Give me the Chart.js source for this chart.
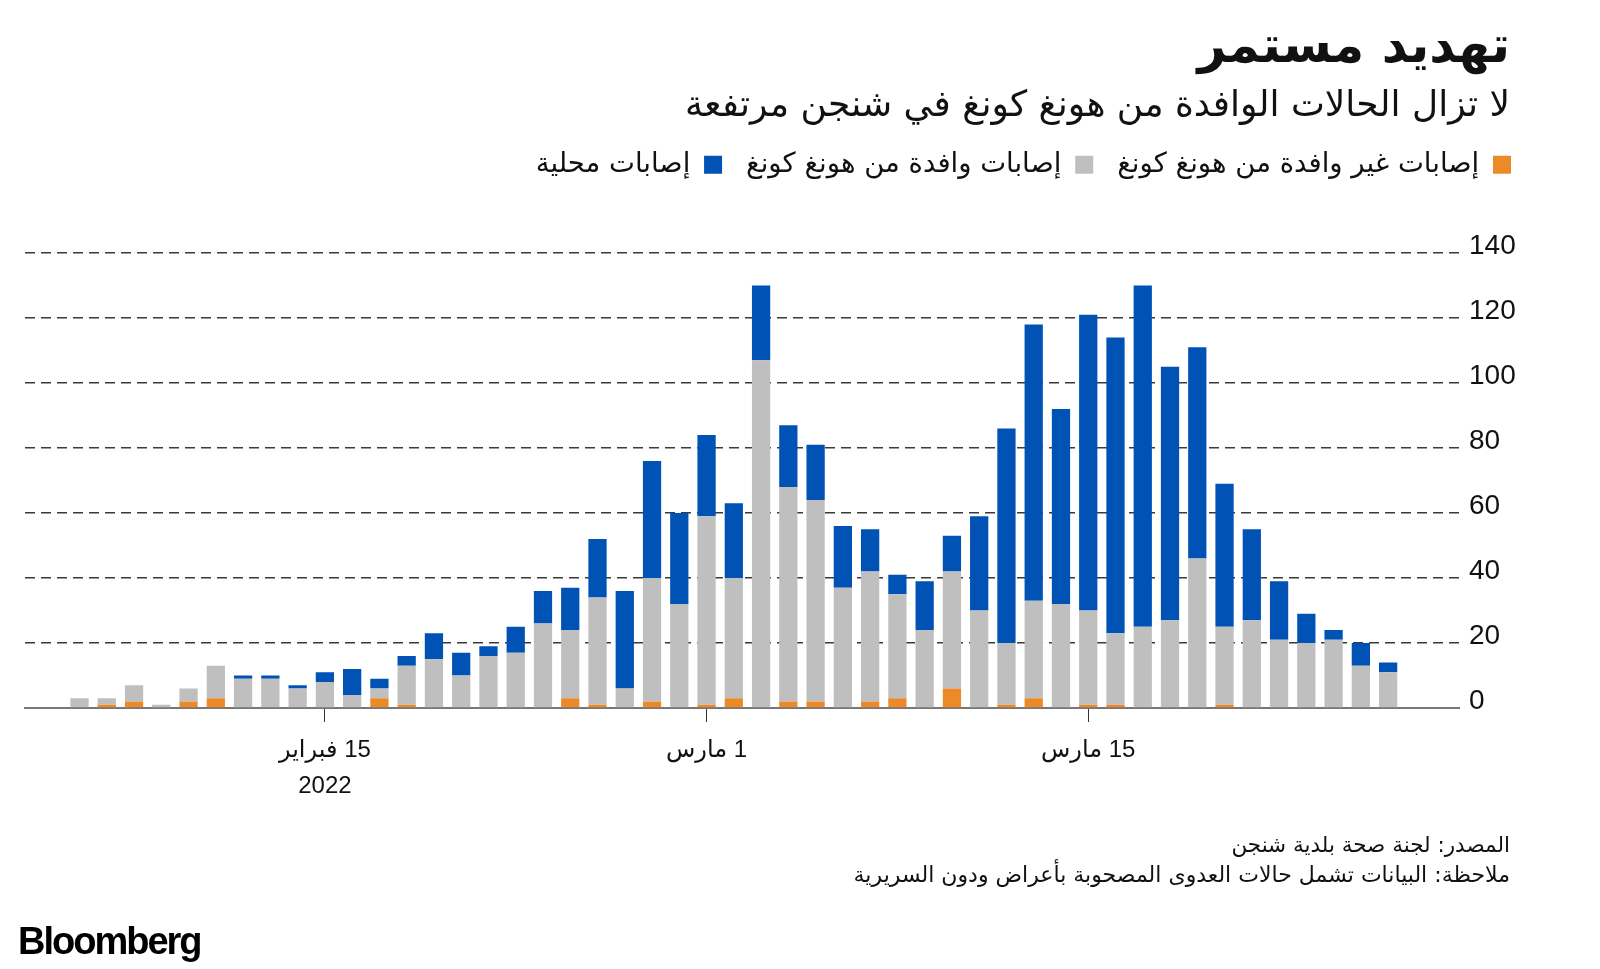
<!DOCTYPE html>
<html lang="ar">
<head>
<meta charset="utf-8">
<script src="https://cdn.jsdelivr.net/npm/chart.js@4.4.1/dist/chart.umd.min.js"></script>
<style>
  body { margin: 0; background: #fff; }
  #wrap { position: relative; width: 1600px; height: 969px; overflow: hidden; }
  #wrap canvas { position: absolute; left: 0; top: 0; }
  .txt { position: absolute; direction: rtl; text-align: right; right: 90px; white-space: nowrap;
         font-family: "DejaVu Sans", sans-serif; color: #111; line-height: 1; }
  #title { top: 20px; font-size: 50px; font-weight: bold; letter-spacing: -1px; }
  #subtitle { top: 86px; font-size: 36px; }
  #source { top: 834px; font-size: 21.5px; }
  #note { top: 864px; font-size: 22px; }
  #logo { position: absolute; left: 18px; top: 920px; font-family: "Liberation Sans", Arial, sans-serif;
          font-weight: bold; font-size: 38px; letter-spacing: -2px; color: #000; }
</style>
</head>
<body>
<div id="wrap">
  <canvas id="casesChart"></canvas>
  <div class="txt" id="title">تهديد مستمر</div>
  <div class="txt" id="subtitle">لا تزال الحالات الوافدة من هونغ كونغ في شنجن مرتفعة</div>
  <div class="txt" id="source">المصدر: لجنة صحة بلدية شنجن</div>
  <div class="txt" id="note">ملاحظة: البيانات تشمل حالات العدوى المصحوبة بأعراض ودون السريرية</div>
  <div id="logo">Bloomberg</div>
</div>
<script>
// 1. DATOS
const fechas = [
  '2022-02-06','2022-02-07','2022-02-08','2022-02-09','2022-02-10','2022-02-11','2022-02-12',
  '2022-02-13','2022-02-14','2022-02-15','2022-02-16','2022-02-17','2022-02-18','2022-02-19',
  '2022-02-20','2022-02-21','2022-02-22','2022-02-23','2022-02-24','2022-02-25','2022-02-26',
  '2022-02-27','2022-02-28','2022-03-01','2022-03-02','2022-03-03','2022-03-04','2022-03-05',
  '2022-03-06','2022-03-07','2022-03-08','2022-03-09','2022-03-10','2022-03-11','2022-03-12',
  '2022-03-13','2022-03-14','2022-03-15','2022-03-16','2022-03-17','2022-03-18','2022-03-19',
  '2022-03-20','2022-03-21','2022-03-22','2022-03-23','2022-03-24','2022-03-25','2022-03-26'
];
// إصابات غير وافدة من هونغ كونغ
const noVafidas = [0,1,2,0,2,3,0,0,0,0,0,3,1,0,0,0,0,0,3,1,0,2,0,
                   1,3,0,2,2,0,2,3,0,6,0,1,3,0,1,1,0,0,0,1,0,0,0,0,0,0];
// إصابات وافدة من هونغ كونغ
const vafidas = [3,2,5,1,4,10,9,9,6,8,4,3,12,15,10,16,17,26,21,33,6,38,32,
                 58,37,107,66,62,37,40,32,24,36,30,19,30,32,29,22,25,27,46,24,27,21,20,21,13,11];
// إصابات محلية
const locales = [0,0,0,0,0,0,1,1,1,3,8,3,3,8,7,3,8,10,13,18,30,36,28,
                 25,23,23,19,17,19,13,6,15,11,29,66,85,60,91,91,105,78,65,44,28,18,9,3,7,3];

const ticksFechas = ['2022-02-15', '2022-03-01', '2022-03-15'];
const ticksEtiquetas = [['\u200F15 فبراير', '2022'], '\u200F1 مارس', '\u200F15 مارس'];
const ticksY = [0, 20, 40, 60, 80, 100, 120, 140];

const nombres = ['إصابات غير وافدة من هونغ كونغ', 'إصابات وافدة من هونغ كونغ', 'إصابات محلية'];
const colores = ['#ec8a2a', '#bfbfbf', '#0052b4'];

// 2. CONVERSIÓN FECHA -> DÍA
const base = Date.parse('2022-02-01T00:00:00Z');
const dia = f => (Date.parse(f + 'T00:00:00Z') - base) / 86400000;
const puntos = arr => arr.map((v, i) => ({ x: dia(fechas[i]), y: v }));

// plugin: alto fijo de la leyenda para colocar el área del gráfico
const leyendaFija = {
  id: 'leyendaFija',
  beforeInit(chart) {
    const fit = chart.legend.fit;
    chart.legend.fit = function () {
      fit.call(this);
      this.height = 126;
    };
  }
};

const fuenteNum = '"Liberation Sans", "DejaVu Sans", sans-serif';

// 3. GRÁFICO
const ctx = document.getElementById('casesChart').getContext('2d');
const chart = new Chart(ctx, {
  type: 'bar',
  data: {
    datasets: [
      { label: nombres[0], data: puntos(noVafidas), backgroundColor: colores[0] },
      { label: nombres[1], data: puntos(vafidas), backgroundColor: colores[1] },
      { label: nombres[2], data: puntos(locales), backgroundColor: colores[2] }
    ]
  },
  options: {
    responsive: true,
    maintainAspectRatio: false,
    animation: false,
    layout: { padding: { top: 127, left: 25, right: 65, bottom: 161 } },
    datasets: { bar: { categoryPercentage: 1, barPercentage: 0.67 } },
    plugins: {
      tooltip: { enabled: false },
      legend: {
        position: 'top',
        align: 'start',
        rtl: true,
        labels: {
          boxWidth: 18, boxHeight: 18, padding: 24, color: '#111',
          font: { family: '"DejaVu Sans", sans-serif', size: 27.5 }
        }
      }
    },
    scales: {
      x: {
        type: 'linear',
        stacked: true,
        offset: false,
        min: 3,
        max: 55.6,
        afterBuildTicks: axis => { axis.ticks = ticksFechas.map(f => ({ value: dia(f) })); },
        afterFit: axis => { axis.height = 100; },
        ticks: {
          autoSkip: false,
          maxRotation: 0,
          padding: 10,
          color: '#111',
          font: { family: fuenteNum, size: 24, lineHeight: 1.5 },
          callback: (v) => ticksEtiquetas[ticksFechas.findIndex(f => dia(f) === v)]
        },
        grid: { offset: false, drawOnChartArea: false, drawTicks: true, tickLength: 14, color: '#333', lineWidth: 1 },
        border: { display: true, color: '#777', width: 2 }
      },
      y: {
        position: 'right',
        stacked: true,
        min: 0,
        max: 140,
        afterBuildTicks: axis => { axis.ticks = ticksY.map(v => ({ value: v })); },
        afterFit: axis => { axis.width = 76; },
        ticks: {
          padding: 10,
          labelOffset: -7,
          color: '#111',
          font: { family: fuenteNum, size: 28 }
        },
        grid: {
          drawTicks: false,
          color: c => (c.tick && c.tick.value === 0) ? 'rgba(0,0,0,0)' : '#3a3a3a',
          lineWidth: 1.5
        },
        border: { display: false, dash: [10, 6] }
      }
    }
  },
  plugins: [leyendaFija]
});
</script>
</body>
</html>
